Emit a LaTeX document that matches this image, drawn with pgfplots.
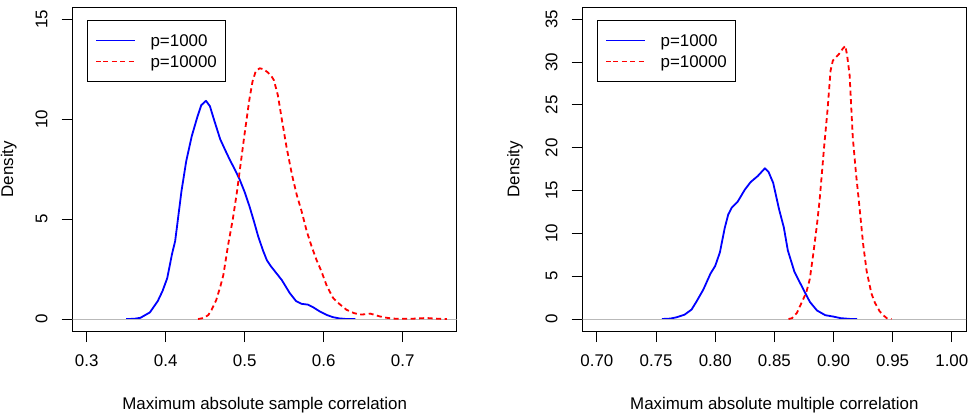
\documentclass[border=0pt]{standalone}
\usepackage{fontspec}
\setmainfont{Liberation Sans}
\usepackage{pgfplots}
\pgfplotsset{compat=1.18}
\newcommand\fs{\fontsize{16.9pt}{20pt}\selectfont}

\pgfplotstableread{
x y
0.3500 0
0.3600 0.01
0.3680 0.06
0.3800 0.33
0.3900 0.90
0.3960 1.40
0.4020 2.05
0.4080 3.25
0.4120 3.90
0.4200 6.40
0.4260 7.90
0.4330 9.15
0.4400 10.10
0.4450 10.70
0.4510 10.92
0.4560 10.65
0.4610 10.00
0.4690 9.00
0.4760 8.40
0.4814 7.95
0.4880 7.45
0.4940 6.95
0.5000 6.35
0.5060 5.65
0.5120 4.85
0.5170 4.15
0.5230 3.45
0.5280 2.95
0.5330 2.65
0.5400 2.30
0.5470 1.95
0.5570 1.30
0.5650 0.90
0.5720 0.76
0.5800 0.72
0.5870 0.58
0.5950 0.38
0.6040 0.20
0.6120 0.09
0.6200 0.03
0.6290 0.00
0.6400 0
}\sampleA

\pgfplotstableread{
x y
0.4410 0
0.4480 0.05
0.4540 0.20
0.4580 0.45
0.4640 0.95
0.4690 1.60
0.4730 2.20
0.4790 3.70
0.4850 5.00
0.4900 6.30
0.4950 7.80
0.5000 9.30
0.5060 11.00
0.5100 11.90
0.5140 12.40
0.5190 12.55
0.5240 12.50
0.5290 12.35
0.5340 12.15
0.5370 11.95
0.5420 11.20
0.5470 10.00
0.5530 8.60
0.5600 7.20
0.5660 6.20
0.5720 5.40
0.5785 4.40
0.5850 3.60
0.5910 2.95
0.5970 2.40
0.6040 1.65
0.6120 1.05
0.6200 0.75
0.6290 0.46
0.6380 0.30
0.6460 0.22
0.6530 0.24
0.6590 0.27
0.6650 0.20
0.6710 0.13
0.6800 0.06
0.6880 0.02
0.7000 0.01
0.7100 0.01
0.7200 0.03
0.7300 0.05
0.7380 0.03
0.7460 0.01
0.7560 0
}\sampleB

\pgfplotstableread{
x y
0.7550 0
0.7620 0.05
0.7670 0.19
0.7740 0.50
0.7800 1.10
0.7840 2.00
0.7900 3.45
0.7960 5.30
0.8000 6.20
0.8040 7.80
0.8080 10.60
0.8110 12.20
0.8140 13.00
0.8190 13.70
0.8250 15.10
0.8300 16.00
0.8360 16.70
0.8400 17.30
0.8420 17.60
0.8450 17.20
0.8490 15.90
0.8540 12.80
0.8580 10.70
0.8614 8.00
0.8670 5.50
0.8740 3.60
0.8800 2.00
0.8860 1.00
0.8930 0.45
0.9000 0.28
0.9060 0.10
0.9140 0.01
0.9200 0
}\multA

\pgfplotstableread{
x y
0.8620 0
0.8650 0.10
0.8690 0.70
0.8740 2.20
0.8770 3.10
0.8800 4.70
0.8830 7.70
0.8860 11.00
0.8882 13.80
0.8920 20.00
0.8950 24.50
0.8975 29.00
0.8995 30.20
0.9050 31.00
0.9080 31.60
0.9100 31.90
0.9115 30.80
0.9136 28.50
0.9163 21.20
0.9190 17.00
0.9215 13.70
0.9250 8.80
0.9280 5.60
0.9320 3.00
0.9350 1.90
0.9390 0.90
0.9420 0.45
0.9450 0.10
0.9490 0
}\multB

\pgfplotsset{
  rstyle/.style={
    scale only axis,
    anchor=south west,
    height=323.7pt,
    axis line style={line width=1pt},
    tick align=outside,
    major tick length=11pt,
    tick style={line width=1pt, black},
    xtick pos=left, ytick pos=left,
    /pgf/number format/assume math mode=true,
    tick label style={font=\fs},
    xticklabel style={anchor=center, text height=12.1pt, text depth=0pt, inner sep=0pt, yshift=-18pt},
    yticklabel style={xshift=-20.3pt, rotate=90, anchor=center, text height=12.1pt, text depth=0pt, inner sep=0pt},
    xlabel style={font=\fs, at={([yshift=-72.3pt]axis description cs:0.5,0)}, anchor=center, text height=12.1pt, text depth=0pt, inner sep=0pt},
    legend cell align=left,
    legend style={at={([xshift=14pt,yshift=-12.7pt]axis description cs:0,1)}, anchor=north west,
      draw=black, line width=1pt, inner xsep=8.2pt, inner ysep=14pt, row sep=8.9pt, column sep=14.6pt,
      font=\fs, nodes={inner sep=0pt, text height=12.1pt, text depth=0pt}},
  },
  bluecurve/.style={blue, line width=1.8pt, line join=round,
    legend image code/.code={\path (0pt,0pt) -- (6.8pt,0pt); \draw[blue, line width=1.8pt] (6.8pt,0pt) -- (38.8pt,0pt);}},
  redcurve/.style={red, line width=1.8pt, dash pattern=on 5pt off 3.5pt, line join=round,
    legend image code/.code={\path (0pt,0pt) -- (6.8pt,0pt); \draw[red, line width=1.8pt, dash pattern=on 5pt off 3.5pt] (6.8pt,0pt) -- (38.8pt,0pt);}},
}

\begin{document}
\begin{tikzpicture}
\useasboundingbox (0pt,0pt) rectangle (976pt,413pt);
\begin{axis}[rstyle,
  at={(72.7pt,82pt)}, width=384pt,
  xmin=0.2823, xmax=0.7684, ymin=-0.6, ymax=15.6,
  xtick={0.3,0.4,0.5,0.6,0.7}, xticklabels={0.3,0.4,0.5,0.6,0.7},
  ytick={0,5,10,15}, yticklabels={0,5,10,15},
  ylabel style={font=\fs, at={([xshift=-65.7pt]axis description cs:0,0.5)}, anchor=center, text height=12.1pt, text depth=0pt, inner sep=0pt},
  xlabel={Maximum absolute sample correlation}, ylabel={Density}]
\addplot[bluecurve] table[x=x,y=y] {\sampleA};
\addlegendentry{p=1000}
\addplot[gray!55, line width=0.8pt, forget plot] coordinates {(0.2,0) (0.8,0)};
\addplot[redcurve] table[x=x,y=y] {\sampleB};
\addlegendentry{p=10000}
\end{axis}
\begin{axis}[rstyle,
  at={(582.7pt,82pt)}, width=383.3pt,
  xmin=0.688, xmax=1.012, ymin=-1.4, ymax=36.4,
  xtick={0.70,0.75,0.80,0.85,0.90,0.95,1.00}, xticklabels={0.70,0.75,0.80,0.85,0.90,0.95,1.00},
  ytick={0,5,10,15,20,25,30,35}, yticklabels={0,5,10,15,20,25,30,35},
  ylabel style={font=\fs, at={([xshift=-69.4pt]axis description cs:0,0.5)}, anchor=center, text height=12.1pt, text depth=0pt, inner sep=0pt},
  xlabel={Maximum absolute multiple correlation}, ylabel={Density}]
\addplot[bluecurve] table[x=x,y=y] {\multA};
\addlegendentry{p=1000}
\addplot[gray!55, line width=0.8pt, forget plot] coordinates {(0.6,0) (1.1,0)};
\addplot[redcurve] table[x=x,y=y] {\multB};
\addlegendentry{p=10000}
\end{axis}
\end{tikzpicture}
\end{document}
